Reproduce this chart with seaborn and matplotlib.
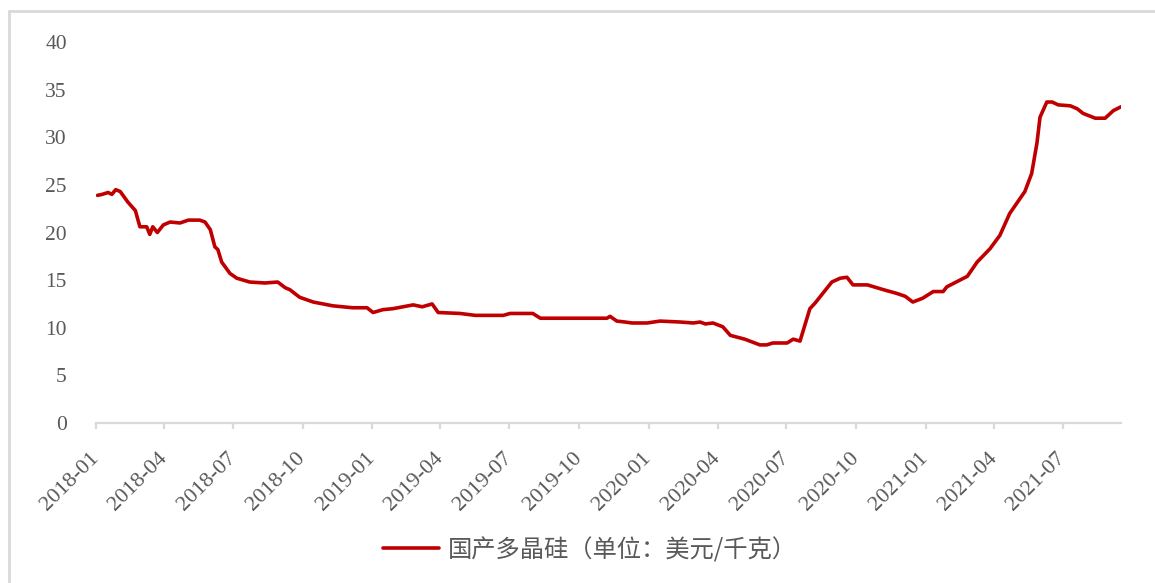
import pandas as pd
import numpy as np
import seaborn as sns
import matplotlib.pyplot as plt
import matplotlib.dates as mdates
from matplotlib.lines import Line2D

# weekly-ish price points
dates = [
    "2018-01-03", "2018-01-09", "2018-01-17", "2018-01-22", "2018-01-27", "2018-02-02",
    "2018-02-12", "2018-02-22", "2018-02-28", "2018-03-09", "2018-03-13", "2018-03-17",
    "2018-03-23", "2018-03-31", "2018-04-09", "2018-04-22", "2018-05-03", "2018-05-18",
    "2018-05-25", "2018-06-01", "2018-06-07", "2018-06-11", "2018-06-16", "2018-06-27",
    "2018-07-06", "2018-07-23", "2018-08-12", "2018-08-29", "2018-09-08", "2018-09-14",
    "2018-09-27", "2018-10-15", "2018-11-10", "2018-12-06", "2018-12-25", "2019-01-02",
    "2019-01-15", "2019-01-28", "2019-02-24", "2019-03-08", "2019-03-21", "2019-03-29",
    "2019-04-27", "2019-05-17", "2019-06-23", "2019-07-02", "2019-08-01", "2019-08-11",
    "2019-11-07", "2019-11-11", "2019-11-20", "2019-12-01", "2019-12-10", "2019-12-30",
    "2020-01-16", "2020-02-12", "2020-02-29", "2020-03-09", "2020-03-16", "2020-03-26",
    "2020-04-08", "2020-04-18", "2020-05-07", "2020-05-27", "2020-06-05", "2020-06-13",
    "2020-07-02", "2020-07-10", "2020-07-19", "2020-08-01", "2020-08-08", "2020-08-24",
    "2020-08-30", "2020-09-10", "2020-09-19", "2020-09-27", "2020-10-16", "2020-11-06",
    "2020-11-24", "2020-12-05", "2020-12-15", "2020-12-28", "2021-01-11", "2021-01-24",
    "2021-01-29", "2021-02-25", "2021-03-10", "2021-03-27", "2021-04-09", "2021-04-22",
    "2021-05-12", "2021-05-21", "2021-05-28", "2021-06-01", "2021-06-10", "2021-06-17",
    "2021-06-25", "2021-07-11", "2021-07-20", "2021-07-28", "2021-08-13", "2021-08-26",
    "2021-09-06", "2021-09-16",
]
price = [
    23.9, 24.0, 24.2, 24.0, 24.5, 24.3,
    23.2, 22.3, 20.6, 20.6, 19.8, 20.6,
    20.0, 20.8, 21.1, 21.0, 21.3, 21.3,
    21.1, 20.3, 18.5, 18.2, 16.9, 15.7,
    15.2, 14.8, 14.7, 14.8, 14.2, 14.0,
    13.2, 12.7, 12.3, 12.1, 12.1, 11.6,
    11.9, 12.0, 12.4, 12.2, 12.5, 11.6,
    11.5, 11.3, 11.3, 11.5, 11.5, 11.0,
    11.0, 11.2, 10.7, 10.6, 10.5, 10.5,
    10.7, 10.6, 10.5, 10.6, 10.4, 10.5,
    10.1, 9.2, 8.8, 8.2, 8.2, 8.4,
    8.4, 8.8, 8.6, 12.0, 12.6, 14.2,
    14.8, 15.2, 15.3, 14.5, 14.5, 14.0,
    13.6, 13.3, 12.7, 13.1, 13.8, 13.8,
    14.3, 15.4, 16.9, 18.3, 19.7, 22.0,
    24.3, 26.2, 29.4, 32.1, 33.7, 33.7,
    33.4, 33.3, 33.0, 32.5, 32.0, 32.0,
    32.8, 33.2,
]
label = "国产多晶硅（单位：美元/千克）"

df = pd.DataFrame({"date": pd.to_datetime(dates), "price": price})

sns.set_theme(style="white")
plt.rcParams['font.family'] = ['Liberation Serif', 'DejaVu Sans']

fig = plt.figure(figsize=(11.55, 5.83), dpi=100)
ax = fig.add_axes([96 / 1155, 1 - 423 / 583, (1121 - 96) / 1155, (423 - 42) / 583])

sns.lineplot(data=df, x="date", y="price", ax=ax, color="#C00000", linewidth=2.6)

ax.set_xlim(pd.Timestamp("2018-01-01"), pd.Timestamp("2021-09-16"))
ax.set_ylim(0, 40)
ax.set_yticks(range(0, 41, 5))
ax.xaxis.set_major_locator(mdates.MonthLocator(bymonth=[1, 4, 7, 10]))
ax.xaxis.set_major_formatter(mdates.DateFormatter("%Y-%m"))
ax.set_xlabel("")
ax.set_ylabel("")

for s in ["top", "right", "left"]:
    ax.spines[s].set_visible(False)
ax.spines["bottom"].set_color("#d9d9d9")
ax.spines["bottom"].set_linewidth(1.6)

ax.tick_params(axis="y", length=0, pad=21, labelsize=15.5, labelcolor="#595959")
ax.tick_params(axis="x", bottom=True, direction="out", length=4, width=1.6,
               color="#d9d9d9", pad=19, labelsize=16, labelcolor="#595959")
for t in ax.get_xticklabels():
    t.set_rotation(45)
    t.set_ha("right")
    t.set_va("center")
    t.set_rotation_mode("anchor")

handle = Line2D([], [], color="#C00000", linewidth=2.6)
leg = fig.legend([handle], [label], loc="center", bbox_to_anchor=(590 / 1155, 1 - 550 / 583),
                 frameon=False, handlelength=2.3, handletextpad=0.35,
                 prop={"family": ["Noto Sans CJK SC", "DejaVu Sans"], "size": 17.5,
                       "weight": "light"})
for t in leg.get_texts():
    t.set_color("#595959")

# partial frame around the figure (top and left edges)
fig.add_artist(Line2D([9 / 1155, 9 / 1155], [0, 1 - 11 / 583], transform=fig.transFigure,
                      color="#d9d9d9", linewidth=2))
fig.add_artist(Line2D([9 / 1155, 1], [1 - 11 / 583, 1 - 11 / 583], transform=fig.transFigure,
                      color="#d9d9d9", linewidth=2))

fig.savefig("out.png", dpi=100)
